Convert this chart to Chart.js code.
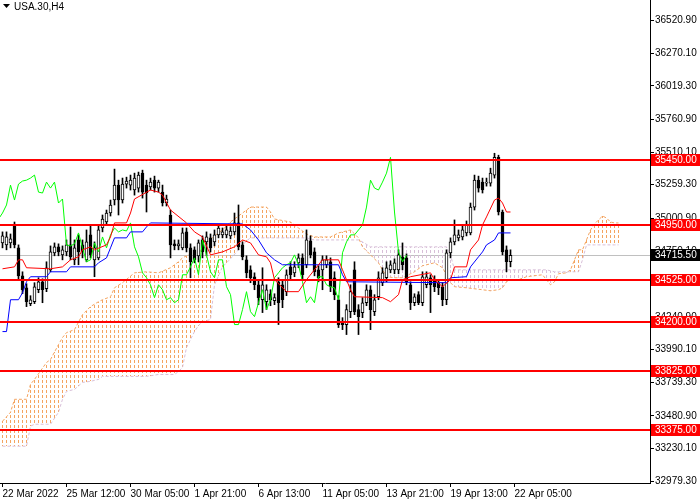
<!DOCTYPE html>
<html>
<head>
<meta charset="utf-8">
<title>USA.30,H4</title>
<script src="https://cdn.jsdelivr.net/npm/chart.js@4.4.1/dist/chart.umd.min.js"></script>
<style>
  html, body { margin: 0; padding: 0; background: #fff; }
  #wrap { width: 700px; height: 500px; }
</style>
</head>
<body>
<div id="wrap"><canvas id="chart" width="700" height="500"></canvas></div>
<script>
///// USA.30 H4 with Ichimoku /////

Chart.defaults.font.family = "'Liberation Sans', Arial, sans-serif";
Chart.defaults.font.size = 10;

const symbolTitle = 'USA.30,H4';

// H4 candles, bar 0 = 22 Mar 2022
const opens = [34811,34796,34811,34949,34773,34558,34466,34344,34359,34451,
  34512,34459,34604,34735,34781,34719,34742,34796,34681,34834,
  34796,34681,34873,34681,34696,34926,34972,35041,35141,35256,
  35141,35264,35256,35218,35233,35348,35256,35241,35294,35233,
  35202,35118,35026,34804,34788,34773,34896,34773,34758,34712,
  34834,34819,34850,34819,34873,34873,34873,34865,34896,34965,
  34796,34681,34604,34551,34489,34374,34359,34420,34367,34512,
  34489,34436,34627,34581,34658,34696,34643,34827,34742,34604,
  34604,34643,34666,34543,34374,34206,34183,34282,34604,34298,
  34275,34351,34451,34282,34397,34505,34543,34604,34604,34604,
  34704,34696,34489,34351,34413,34351,34489,34543,34528,34505,
  34474,34374,34735,34819,34850,34857,34888,34888,35087,35294,
  35279,35271,35271,35333,35470,35049,34758,34666];
const highs = [34896,34896,34880,34972,34796,34589,34497,34405,34505,34543,
  34535,34666,34788,34811,34804,34788,34834,34934,34834,34873,
  34834,34911,34949,34819,34949,35026,35064,35141,35379,35294,
  35310,35317,35333,35348,35356,35371,35294,35310,35325,35294,
  35256,35179,35064,34834,34834,34926,34926,34804,34781,34834,
  34865,34896,34880,34911,34949,34926,34942,34934,35041,35103,
  34819,34712,34635,34581,34528,34620,34489,34451,34420,34543,
  34528,34604,34666,34666,34727,34727,34911,34865,34773,34635,
  34712,34712,34696,34589,34405,34236,34336,34489,34666,34336,
  34390,34489,34482,34413,34589,34620,34666,34673,34689,34758,
  34811,34727,34512,34420,34436,34589,34589,34566,34558,34528,
  34505,34758,34850,34988,34911,34942,34980,35118,35333,35325,
  35310,35310,35386,35501,35486,35064,34788,34758];
const lows = [34773,34758,34773,34773,34528,34420,34321,34328,34344,34428,
  34351,34436,34589,34712,34712,34681,34712,34681,34643,34643,
  34696,34666,34696,34551,34681,34896,34949,35018,35103,35026,
  35118,35233,35218,35179,35202,35156,35049,35218,35202,35202,
  35095,35095,34696,34758,34758,34758,34742,34543,34658,34666,
  34696,34712,34742,34788,34850,34850,34850,34842,34873,34758,
  34681,34543,34505,34451,34336,34275,34298,34328,34336,34183,
  34313,34405,34528,34551,34620,34535,34620,34696,34558,34512,
  34451,34620,34436,34374,34160,34144,34106,34236,34259,34106,
  34236,34328,34144,34252,34374,34482,34512,34581,34574,34574,
  34604,34489,34298,34328,34336,34328,34466,34275,34436,34413,
  34328,34336,34696,34796,34827,34834,34865,34873,35064,35202,
  35195,35248,35248,35310,35026,34719,34589,34627];
const closes = [34865,34857,34842,34796,34558,34451,34359,34374,34474,34512,
  34451,34620,34742,34781,34742,34758,34796,34704,34773,34742,
  34742,34819,34719,34773,34911,34995,35041,35103,35256,35141,
  35264,35287,35294,35310,35333,35202,35195,35279,35233,35279,
  35118,35149,34796,34788,34804,34888,34773,34666,34681,34811,
  34742,34857,34773,34873,34926,34896,34911,34903,34965,34781,
  34704,34581,34543,34489,34390,34489,34451,34374,34390,34351,
  34374,34566,34566,34627,34696,34566,34834,34719,34589,34543,
  34681,34681,34474,34413,34183,34183,34298,34436,34282,34244,
  34351,34451,34298,34374,34543,34581,34620,34643,34658,34719,
  34643,34512,34351,34397,34351,34551,34551,34489,34474,34466,
  34374,34735,34819,34873,34873,34911,34949,35087,35294,35233,
  35218,35279,35348,35470,35049,34742,34666,34715.5];

// Tenkan-sen (red), vertices: bar index / price
const tenkanBars = [0,3,4,5,6,12,15,17,19,20,22,23,26,27,28,31,32,33,37,39,40,42,46,48,50,52,55,58,60,62,64,66,67,68,71,74,76,80,84,85,87,88,95,97,99,100,102,107,108,110,112,113,116,117,119,120,121,123,124,125,126,127];
const tenkanVals = [34612,34627,34681,34681,34620,34612,34627,34681,34704,34758,34781,34758,34796,34857,34965,34965,35041,35149,35218,35202,35179,35064,34965,34896,34857,34719,34742,34781,34834,34811,34719,34704,34658,34528,34436,34436,34528,34681,34681,34604,34451,34397,34390,34359,34413,34528,34551,34581,34528,34474,34528,34627,34627,34758,34834,34949,35011,35141,35156,35118,35049,35049];

// Kijun-sen (blue)
const kijunBars = [0,1,2,4,5,6,7,11,12,16,17,23,24,26,27,28,31,32,35,36,37,60,62,64,66,68,70,84,85,86,111,112,116,117,119,120,121,123,124,127];
const kijunVals = [34129,34129,34374,34374,34428,34512,34551,34551,34589,34589,34627,34627,34658,34696,34773,34850,34850,34896,34896,34934,34965,34957,34911,34834,34735,34681,34643,34643,34566,34512,34505,34543,34551,34627,34704,34742,34796,34834,34888,34888];

// Senkou span A / B (cloud, already shifted 26 bars ahead)
const cloudBars = [0,2,3,6,7,8,11,12,14,15,16,18,20,22,24,25,27,28,30,33,36,39,42,43,44,45,46,48,49,50,52,53,55,57,59,61,62,66,67,68,72,74,76,78,82,84,87,89,90,92,94,96,98,100,103,105,108,110,111,112,113,116,122,124,125,126,127,129,131,135,136,137,138,139,141,142,143,144,145,146,147,148,149,150,151,152,153,154];
const spanA = [33439,33508,33608,33608,33723,33761,33891,33914,34029,34083,34121,34144,34259,34321,34359,34374,34397,34466,34505,34581,34589,34581,34620,34643,34666,34696,34712,34735,34742,34758,34834,34865,34911,34972,35018,35064,35087,35087,35049,34995,34972,34926,34880,34857,34857,34888,34911,34850,34781,34719,34658,34551,34543,34543,34589,34635,34658,34620,34566,34505,34474,34466,34443,34451,34466,34512,34528,34528,34551,34566,34528,34489,34512,34574,34581,34604,34681,34758,34758,34834,34911,34957,34988,35018,35003,34972,34965,34965];
const spanB = [33247,33247,33247,33247,33401,33416,33416,33416,33508,33608,33669,33684,33738,33746,33761,
  33784,33784,33784,33784,33784,33784,
  33799,33799,33799,33822,33853,34006,34129,34175,34206,34221,34489,34627,34689,34758,34827,
  34850,34850,34850,34850,34850,34850,34850,
  34834,34834,34834,34834,34834,
  34819,
  34781,34781,34781,34781,34781,34781,34781,34781,34781,34781,
  34719,
  34604,34604,34604,34604,34604,34604,34604,34604,34604,34604,34604,
  34597,
  34589,34589,34589,34589,34589,34589,
  34681,
  34796,34796,34796,34796,34796,34796,34796,34796,34796];
const chikouShift = 26;   // chikou = close plotted 26 bars back

// horizontal levels and last bid
const levels = [35450, 34950, 34525, 34200, 33825, 33375];
const lastPrice = 34715.5;

// axes
const yTicks = [36520.9,36270.1,36019.3,35760.9,35510.1,35259.3,35000.9,34750.1,34499.3,34240.9,33990.1,33739.3,33480.9,33230.1,32979.3];
const dateBars = [0,16,32,48,64,80,96,112,128];
const dateLabels = ['22 Mar 2022','25 Mar 12:00','30 Mar 05:00','1 Apr 21:00','6 Apr 13:00','11 Apr 05:00','13 Apr 21:00','19 Apr 13:00','22 Apr 05:00'];

const yMin = 32964, yMax = 36680;
const xMin = -0.625, xMax = 161.875;

const pts = (xs, ys) => xs.map((x, i) => ({x: x, y: ys[i]}));

const wickData = highs.map((h, i) => ({x: i, y: [lows[i], h]}));
const bodyData = opens.map((o, i) => ({x: i, y: [o, closes[i]]}));
const bodyFill = opens.map((o, i) => closes[i] >= o ? '#ffffff' : '#000000');
const chikouData = closes.map((c, i) => ({x: i - chikouShift, y: c}));

// pixel y of a drawn line at pixel x (between its rendered points)
function lineYAt(points, px) {
  for (let k = 1; k < points.length; k++) {
    const p0 = points[k - 1], p1 = points[k];
    if (px >= p0.x && px <= p1.x) {
      const t = p1.x === p0.x ? 0 : (px - p0.x) / (p1.x - p0.x);
      return p0.y + t * (p1.y - p0.y);
    }
  }
  return null;
}

const overlay = {
  id: 'overlay',
  beforeDatasetsDraw(chart) {
    const {ctx, chartArea: a, scales: {x, y}} = chart;
    // bid line
    const py = Math.round(y.getPixelForValue(lastPrice)) + 0.5;
    ctx.save();
    ctx.strokeStyle = '#c0c0c0';
    ctx.lineWidth = 1;
    ctx.beginPath(); ctx.moveTo(a.left, py); ctx.lineTo(a.right, py); ctx.stroke();

    // cloud: one dotted column per bar between span A and span B
    const ptsA = chart.getDatasetMeta(0).data, ptsB = chart.getDatasetMeta(1).data;
    ctx.beginPath(); ctx.rect(a.left, a.top, a.right - a.left, a.bottom - a.top); ctx.clip();
    ctx.setLineDash([3, 2]);
    for (let i = cloudBars[0]; i <= cloudBars[cloudBars.length - 1]; i++) {
      const px = Math.floor(x.getPixelForValue(i)) + 0.5;
      const ya = lineYAt(ptsA, px), yb = lineYAt(ptsB, px);
      if (ya === null || yb === null) continue;
      const top = Math.round(Math.min(ya, yb)), bot = Math.round(Math.max(ya, yb));
      if (bot - top < 1) continue;
      ctx.strokeStyle = ya <= yb ? '#F4A460' : '#D8BFD8';
      ctx.lineDashOffset = top % 5;
      ctx.beginPath(); ctx.moveTo(px, top); ctx.lineTo(px, bot); ctx.stroke();
    }
    ctx.restore();
  },
  afterDatasetsDraw(chart) {
    const {ctx, chartArea: a, scales: {y}} = chart;
    ctx.save();
    ctx.strokeStyle = '#ff0000';
    ctx.lineWidth = 2;
    levels.forEach(v => {
      const py = Math.round(y.getPixelForValue(v));
      ctx.beginPath(); ctx.moveTo(a.left, py); ctx.lineTo(a.right, py); ctx.stroke();
    });
    ctx.restore();
  },
  afterDraw(chart) {
    const {ctx, chartArea: a, scales: {y}} = chart;
    ctx.save();
    ctx.font = "10px 'Liberation Sans'";
    ctx.textBaseline = 'middle';
    const tag = (v, bg) => {
      const py = Math.round(y.getPixelForValue(v));
      ctx.fillStyle = bg;
      ctx.fillRect(a.right + 1, py - 6, chart.width - a.right - 1, 12);
      ctx.fillStyle = '#ffffff';
      ctx.fillText(v.toFixed(2), a.right + 5, py + 0.5);
    };
    levels.forEach(v => tag(v, '#ff0000'));
    tag(lastPrice, '#000000');
    // symbol caption top-left
    ctx.fillStyle = '#000';
    ctx.beginPath(); ctx.moveTo(3, 4); ctx.lineTo(10, 4); ctx.lineTo(6.5, 8); ctx.closePath(); ctx.fill();
    ctx.fillText(symbolTitle, 14, 7);
    ctx.restore();
  }
};

const axisGrid = { display: true, drawOnChartArea: false, drawTicks: true, tickLength: 4, color: '#000', offset: false };
const axisBorder = { display: true, color: '#000', width: 1 };
const noPad = s => { s.paddingTop = 0; s.paddingBottom = 0; s.paddingLeft = 0; s.paddingRight = 0; };

const myChart = new Chart('chart', {
  type: 'line',
  data: {
    datasets: [
      { type: 'line', label: 'Senkou A', data: pts(cloudBars, spanA),
        borderColor: '#F4A460', borderWidth: 1, borderDash: [3, 2], pointRadius: 0, fill: false, order: 10 },
      { type: 'line', label: 'Senkou B', data: pts(cloudBars, spanB),
        borderColor: '#D8BFD8', borderWidth: 1, borderDash: [3, 2], pointRadius: 0, fill: false, order: 9 },
      { type: 'bar', label: 'wicks', data: wickData, backgroundColor: '#000',
        grouped: false, maxBarThickness: 1, barPercentage: 1, categoryPercentage: 1, order: 6 },
      { type: 'bar', label: 'bodies', data: bodyData, backgroundColor: bodyFill, borderColor: '#000',
        borderWidth: 1, borderSkipped: false, grouped: false, maxBarThickness: 3,
        barPercentage: 1, categoryPercentage: 1, order: 5 },
      { type: 'line', label: 'Chikou', data: chikouData, borderColor: '#00FF00', borderWidth: 1, pointRadius: 0, fill: false, order: 3 },
      { type: 'line', label: 'Kijun', data: pts(kijunBars, kijunVals), borderColor: '#0000FF', borderWidth: 1, pointRadius: 0, fill: false, order: 2 },
      { type: 'line', label: 'Tenkan', data: pts(tenkanBars, tenkanVals), borderColor: '#FF0000', borderWidth: 1, pointRadius: 0, fill: false, order: 1 }
    ]
  },
  options: {
    responsive: false,
    animation: false,
    devicePixelRatio: 1,
    events: [],
    layout: { padding: 0, autoPadding: false },
    plugins: { legend: { display: false }, tooltip: { enabled: false } },
    scales: {
      x: {
        type: 'linear', min: xMin, max: xMax, offset: false,
        afterBuildTicks: s => { s.ticks = dateBars.map(v => ({ value: v })); },
        afterFit: s => { s.height = 17; noPad(s); },
        grid: axisGrid, border: axisBorder,
        ticks: { autoSkip: false, maxRotation: 0, minRotation: 0, align: 'start', padding: 1, color: '#000',
                 font: { size: 10 }, callback: v => { const k = dateBars.indexOf(v); return k < 0 ? '' : dateLabels[k]; } }
      },
      y: {
        type: 'linear', position: 'right', min: yMin, max: yMax,
        afterBuildTicks: s => { s.ticks = yTicks.map(v => ({ value: v })); },
        afterFit: s => { s.width = 50; noPad(s); },
        grid: axisGrid, border: axisBorder,
        ticks: { autoSkip: false, padding: 1, color: '#000', font: { size: 10 }, callback: v => v.toFixed(2) }
      }
    }
  },
  plugins: [overlay]
});
</script>
</body>
</html>
